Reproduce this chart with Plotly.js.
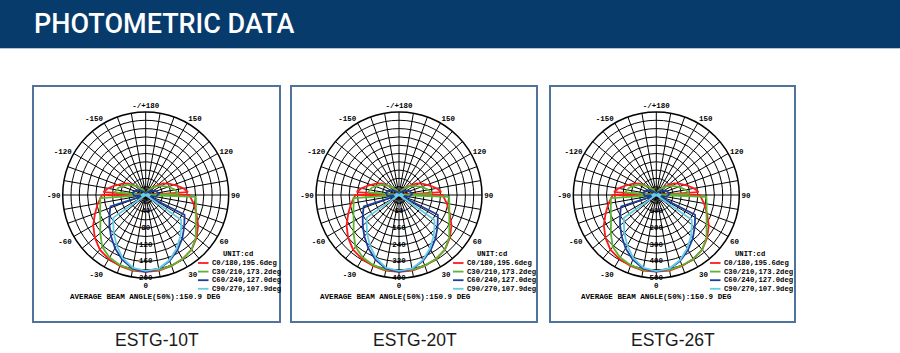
<!DOCTYPE html>
<html><head><meta charset="utf-8">
<script src="https://cdn.plot.ly/plotly-3.0.1.min.js"></script>
<style>html,body{margin:0;padding:0;background:#fff;}#chart{width:900px;height:353px;}</style>
</head><body><div id="chart"></div>
<script>
// ---------- data ----------
const pageTitle = "PHOTOMETRIC DATA";
const modelNames = ["ESTG-10T", "ESTG-20T", "ESTG-26T"];
const seriesNames = ["C0/180,195.6deg", "C30/210,173.2deg", "C60/240,127.0deg", "C90/270,107.9deg"];
const seriesColors = ["#ff1a1a", "#5cb531", "#1c3d9c", "#66cce6"];
const unitLabel = "UNIT:cd";
const beamLabel = "AVERAGE BEAM ANGLE(50%):150.9 DEG";
const radialMax = [200, 400, 500];
const ringLabels10T = [40, 80, 120, 160, 200];
const ringLabels20T = [80, 160, 240, 320, 400];
const ringLabels26T = [100, 200, 300, 400, 500];
const angleTickVals = [0,10,20,30,40,50,60,70,80,90,100,110,120,130,140,150,160,170,180,190,200,210,220,230,240,250,260,270,280,290,300,310,320,330,340,350];
const angleTickText = ["0","","","30","","","60","","","90","","","120","","","150","","","-/+180","","","-150","","","-120","","","-90","","","-60","","","-30","",""];

// gamma angles (deg) for each C-plane pair
const thetaC0  = [-180,-165,-150,-140,-131,-123,-115,-107,-100,-94,-92,-90,-80,-70,-60,-50,-40,-30,-20,-10,0,10,20,30,40,50,60,70,80,90,92,94,100,107,115,123,131,140,150,165,180];
const thetaC30 = [-180,-155,-135,-120,-105,-95,-90,-86,-80,-70,-60,-50,-40,-30,-20,-10,0,10,20,30,40,50,60,70,80,88,90,92,100,110,120,130,140,155,180];
const thetaC60 = [-180,-150,-130,-115,-100,-85,-74,-72,-70,-60,-50,-40,-30,-20,-10,0,10,20,30,40,50,60,63,66,80,95,110,130,150,180];
const thetaC90 = [-180,-120,-90,-70,-58,-55,-50,-40,-30,-20,-10,0,10,20,30,40,50,55,58,70,90,120,180];

// intensities (cd) — ESTG-10T
const r10T_C0  = [0,4,12,22,35,51,64,78,92,102,0,105,117,130,146,160,172,178,182,185,185,185,182,178,172,160,146,130,117,105,0,102,92,78,64,51,35,22,12,4,0];
const r10T_C30 = [0,12,30,50,68,75,0,110,111,117,126,143,163,174,180,183,183,183,181,178,172,158,140,129,123,121,0,79,72,58,44,32,21,10,0];
const r10T_C60 = [0,8,18,26,32,28,0,89,91,101,114,130,148,166,180,185,181,169,153,137,121,108,105,0,25,32,27,17,8,0];
const r10T_C90 = [0,6,10,8,0,95,102,120,140,162,178,183,180,167,149,130,112,104,0,8,10,6,0];
// ESTG-20T
const r20T_C0  = [0,8,24,44,70,102,128,156,184,204,0,210,234,260,292,320,344,356,364,370,370,370,364,356,344,320,292,260,234,210,0,204,184,156,128,102,70,44,24,8,0];
const r20T_C30 = [0,24,60,100,136,150,0,220,222,234,252,286,326,348,360,366,366,366,362,356,344,316,280,258,246,242,0,158,144,116,88,64,42,20,0];
const r20T_C60 = [0,16,36,52,64,56,0,178,182,202,228,260,296,332,360,370,362,338,306,274,242,216,210,0,50,64,54,34,16,0];
const r20T_C90 = [0,12,20,16,0,190,204,240,280,324,356,366,360,334,298,260,224,208,0,16,20,12,0];
// ESTG-26T
const r26T_C0  = [0,10,30,55,88,128,160,195,230,255,0,262,292,325,365,400,430,445,455,462,462,462,455,445,430,400,365,325,292,262,0,255,230,195,160,128,88,55,30,10,0];
const r26T_C30 = [0,30,75,125,170,188,0,275,278,292,315,358,408,435,450,458,458,458,452,445,430,395,350,322,308,302,0,198,180,145,110,80,52,25,0];
const r26T_C60 = [0,20,45,65,80,70,0,222,228,252,285,325,370,415,450,462,452,422,382,342,302,270,262,0,62,80,68,42,20,0];
const r26T_C90 = [0,15,25,20,0,238,255,300,350,405,445,458,450,418,372,325,280,260,0,20,25,15,0];

// ---------- assembly ----------
const W = 900, H = 353;
const X = v => v / W, Y = v => 1 - v / H;
const thetas = [thetaC0, thetaC30, thetaC60, thetaC90];
const charts = [
  {r: [r10T_C0, r10T_C30, r10T_C60, r10T_C90], rings: ringLabels10T, cx: 145.7, box: [33, 280], legX: 198, unitX: 221, beamX: 145},
  {r: [r20T_C0, r20T_C30, r20T_C60, r20T_C90], rings: ringLabels20T, cx: 399, box: [291, 537], legX: 453, unitX: 475, beamX: 395},
  {r: [r26T_C0, r26T_C30, r26T_C60, r26T_C90], rings: ringLabels26T, cx: 656.3, box: [550, 795], legX: 710, unitX: 733, beamX: 656}
];
const CY = 195, RAD = 83;
const mono = {family: "Liberation Mono, DejaVu Sans Mono, monospace", color: "#000", weight: "bold"};

const traces = [], shapes = [], annotations = [];
const layout = {
  width: W, height: H, margin: {l: 0, r: 0, t: 0, b: 0},
  paper_bgcolor: "#fff", showlegend: false
};

// header band
shapes.push({type: "rect", xref: "paper", yref: "paper", x0: 0, x1: 1, y0: Y(48), y1: 1, fillcolor: "#073b6c", line: {width: 0}, layer: "below"});
shapes.push({type: "line", xref: "paper", yref: "paper", x0: 0, x1: 1, y0: Y(48.5), y1: Y(48.5), line: {color: "#b8c4d0", width: 1}});
annotations.push({text: pageTitle, xref: "paper", yref: "paper", x: X(32), y: Y(24), xanchor: "left", yanchor: "middle", showarrow: false,
  font: {family: "Roboto, Liberation Sans, sans-serif", size: 27, color: "#fff", weight: 500}});

charts.forEach((c, i) => {
  const key = i === 0 ? "polar" : "polar" + (i + 1);
  layout[key] = {
    domain: {x: [X(c.cx - RAD), X(c.cx + RAD)], y: [Y(CY + RAD), Y(CY - RAD)]},
    bgcolor: "#fff",
    radialaxis: {range: [0, radialMax[i]], dtick: radialMax[i] / 10, showticklabels: false, ticks: "", showline: false,
      gridcolor: "#000", gridwidth: 1},
    angularaxis: {rotation: -90, direction: "counterclockwise", tickmode: "array", tickvals: angleTickVals, ticktext: angleTickText,
      ticks: "", showline: true, linecolor: "#000", linewidth: 1.5, gridcolor: "#000", gridwidth: 1,
      tickfont: Object.assign({size: 7.5}, mono)}
  };
  c.r.forEach((rv, s) => {
    traces.push({type: "scatterpolar", subplot: key, r: rv, theta: thetas[s], mode: "lines",
      line: {color: seriesColors[s], width: 1.8}, hoverinfo: "skip"});
  });
  traces.push({type: "scatterpolar", subplot: key, r: c.rings, theta: c.rings.map(() => 0), mode: "text",
    text: c.rings.map(String), textposition: "middle center", textfont: Object.assign({size: 7.5}, mono), hoverinfo: "skip"});

  // frame
  shapes.push({type: "rect", xref: "paper", yref: "paper", x0: X(c.box[0]), x1: X(c.box[1]), y0: Y(322), y1: Y(86),
    line: {color: "#4f739b", width: 2}, fillcolor: "rgba(0,0,0,0)"});
  // legend
  annotations.push({text: unitLabel, xref: "paper", yref: "paper", x: X(c.unitX), y: Y(254), xanchor: "left", yanchor: "middle",
    showarrow: false, font: Object.assign({size: 7.2}, mono)});
  seriesNames.forEach((nm, s) => {
    const yy = 263 + s * 8.6;
    shapes.push({type: "line", xref: "paper", yref: "paper", x0: X(c.legX), x1: X(c.legX + 10.5), y0: Y(yy), y1: Y(yy),
      line: {color: seriesColors[s], width: 1.8}});
    annotations.push({text: nm, xref: "paper", yref: "paper", x: X(c.legX + 12), y: Y(yy), xanchor: "left", yanchor: "middle",
      showarrow: false, font: Object.assign({size: 7.2}, mono)});
  });
  annotations.push({text: beamLabel, xref: "paper", yref: "paper", x: X(c.beamX), y: Y(297), xanchor: "center", yanchor: "middle",
    showarrow: false, font: Object.assign({size: 7.6}, mono)});
  annotations.push({text: modelNames[i], xref: "paper", yref: "paper", x: X((c.box[0] + c.box[1]) / 2 + 0.5), y: Y(340), xanchor: "center", yanchor: "middle",
    showarrow: false, font: {family: "Liberation Sans, Arial, sans-serif", size: 17.5, color: "#1a1a1a"}});
});

layout.shapes = shapes;
layout.annotations = annotations;
Plotly.newPlot("chart", traces, layout, {displayModeBar: false, staticPlot: true});
</script></body></html>
